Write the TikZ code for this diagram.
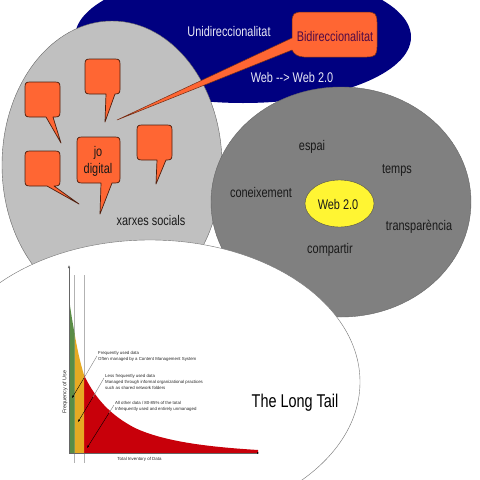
\documentclass[tikz,border=0pt]{standalone}
\usepackage{fontspec}
\setmainfont{Liberation Sans}
\newfontfamily\narrowf[FakeStretch=0.78]{Liberation Sans}
\usetikzlibrary{shapes.geometric,arrows.meta}
\definecolor{navy1}{RGB}{0,0,128}
\definecolor{lgray}{RGB}{192,192,192}
\definecolor{dgray}{RGB}{128,128,128}
\definecolor{orng}{RGB}{255,102,51}
\definecolor{ltext}{RGB}{232,232,245}
\definecolor{grn}{RGB}{90,140,70}
\definecolor{yel}{RGB}{230,170,35}
\definecolor{rd}{RGB}{200,0,10}
\definecolor{bitext}{RGB}{80,10,70}
\tikzset{
  x=1pt,y=-1pt,
  bubble/.style={fill=orng,draw=black!70!orng,line width=.7pt,line join=round},
  lab/.style={font=\narrowf\fontsize{14}{16}\selectfont,text=black!90,inner sep=0pt},
  wlab/.style={lab,text=ltext},
  tinylab/.style={font=\fontsize{4.35}{6}\selectfont,align=left,text=black!85,inner sep=0pt,anchor=west},
  axislab/.style={font=\fontsize{4.4}{6}\selectfont,text=black!85,inner sep=0pt},
  ptr/.style={draw=black!50,line width=.4pt},
  ptrh/.style={draw=black,line width=.4pt,-{Latex[length=2.5pt,width=2pt]}},
}
\newcommand{\speech}[7]{%
  \draw[bubble] (#1+5,#2) -- (#3-5,#2) .. controls (#3-1,#2) and (#3,#2+1) .. (#3,#2+5) -- (#3,#4-5) .. controls (#3,#4-1) and (#3-1,#4) .. (#3-5,#4) -- (#7,#4) -- #6 -- (#5,#4) -- (#1+5,#4) .. controls (#1+1,#4) and (#1,#4-1) .. (#1,#4-5) -- (#1,#2+5) .. controls (#1,#2+1) and (#1+1,#2) .. (#1+5,#2) -- cycle;}
\begin{document}
\begin{tikzpicture}
\useasboundingbox (0,0) rectangle (480,480);
\fill[white] (0,0) rectangle (480,480);
\begin{scope}
\clip (0,0) rectangle (480,480);
\fill[navy1] (243,37) ellipse[x radius=168,y radius=66];
\fill[lgray,draw=black!60] (112,165) ellipse[x radius=110,y radius=144];
\fill[dgray,draw=black!60] (341,202) ellipse[x radius=130,y radius=115];
\fill[white,draw=black!55] (150,382) ellipse[x radius=210,y radius=142];
\draw[bubble,draw=black!55!orng,line width=.5pt] (302,12) -- (367,12) .. controls (375,12) and (377,14) .. (377,22) -- (377,47) .. controls (377,55) and (375,57) .. (367,57) -- (304,57) .. controls (298,57) and (294,54) .. (292,50) -- (117,120) -- (292,38) -- (292,22) .. controls (292,14) and (294,12) .. (302,12) -- cycle;
\speech{85}{59}{120}{94}{106}{(105,122)}{115}
\speech{25}{82}{60}{117}{46}{(61,143)}{53}
\speech{25}{151}{60}{186}{47}{(79,204)}{54}
\speech{137}{125}{172}{160}{157}{(156,184)}{166}
\speech{77}{137}{120}{183}{101}{(100,214)}{112}
% long tail chart
\draw[black!30,line width=.6pt] (74,275) -- (74,463) (84,275) -- (84,463);
\fill[rd] (84,375) .. controls (95,398) and (110,415) .. (135,428) .. controls (165,442) and (210,447) .. (258,450) -- (258,453) -- (84,453) -- cycle;
\fill[yel] (74.5,333) .. controls (77,348) and (80,362) .. (84,375) -- (84,453) -- (74.5,453) -- cycle;
\fill[grn] (69,298) .. controls (70.5,310) and (72.5,322) .. (74.5,333) -- (74.5,453) -- (69,453) -- cycle;
\end{scope}
\coordinate (o) at (69,453);
\coordinate (top) at (69,265);
\coordinate (right) at (259,453);
\draw[black!60,line width=.5pt,-{Latex[length=3pt,width=2.5pt]}] (o) -- (top);
\draw[black!60,line width=.5pt,-{Latex[length=2pt,width=2pt,black]}] (o) -- (right);
\node[lab,align=center] (jo) at (98,161) {jo\\[1pt]digital};
\node[lab] (xs) at (151,220) {xarxes socials};
\node[wlab] (uni) at (229,31) {Unidireccionalitat};
\node[lab,text=bitext] (bi) at (335,36) {Bidireccionalitat};
\node[wlab] (w) at (292,77) {Web --> Web 2.0};
\node[fill=yellow!80!white,draw=black!70,ellipse,minimum width=69pt,minimum height=47pt,inner sep=0pt] (w2) at (339.5,203.5) {};
\node[lab] (w2t) at (338,204) {Web 2.0};
\node[lab] (es) at (312,147) {espai};
\node[lab] (te) at (397,170) {temps};
\node[lab] (co) at (261,192) {coneixement};
\node[lab] (tr) at (419,227) {transparència};
\node[lab] (cm) at (330,250) {compartir};
\node[font=\narrowf\fontsize{18.5}{20}\selectfont,text=black,inner sep=0pt] (lt) at (295,403) {The Long Tail};
% chart labels
\node[tinylab] (a) at (98,356) {Frequently used data\\Often managed by a Content Management System};
\node[tinylab] (b) at (105,382) {Less frequently used data\\Managed through informal organizational practices\\such as shared network folders};
\node[tinylab] (c) at (115,406) {All other data / 80-85\% of the total\\Infrequently used and entirely unmanaged};
\node[axislab,font=\fontsize{5.4}{6}\selectfont,rotate=90] (fq) at (65,392) {Frequency of Use};
\node[axislab] (ti) at (139.5,459) {Total Inventory of Data};
\coordinate (a0) at (97,356);
\coordinate (am) at (84,378);
\coordinate (a1) at (72,398);
\coordinate (b0) at (104,378);
\coordinate (bm) at (93,397);
\coordinate (b1) at (78,422);
\coordinate (c0) at (114,405);
\coordinate (cm2) at (109,413);
\coordinate (c1) at (87,448);
\draw[ptr] (a0) -- (am);
\draw[ptrh] (am) -- (a1);
\draw[ptr] (b0) -- (bm);
\draw[ptrh] (bm) -- (b1);
\draw[ptr] (c0) -- (cm2);
\draw[ptrh] (cm2) -- (c1);
\end{tikzpicture}
\end{document}
